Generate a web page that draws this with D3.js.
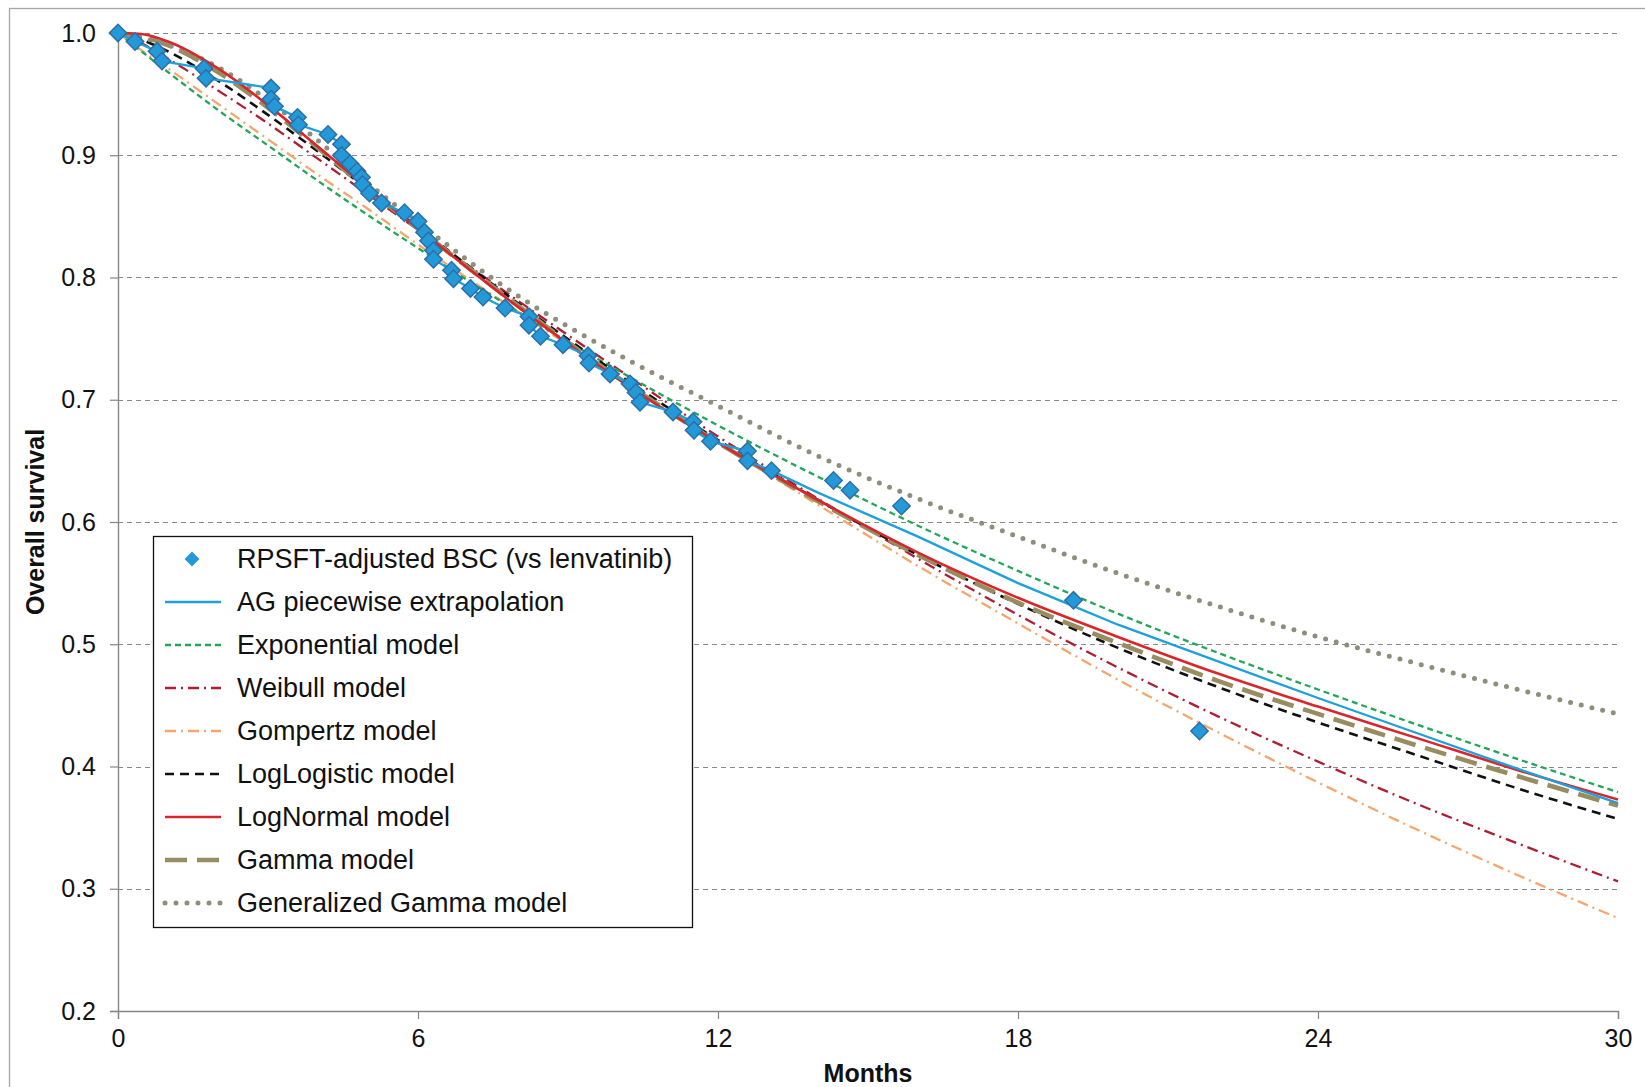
<!DOCTYPE html>
<html>
<head>
<meta charset="utf-8">
<script src="https://cdn.jsdelivr.net/npm/d3@7"></script>
<style>
  html, body { margin: 0; padding: 0; background: #fff; }
  svg { display: block; font-family: "Liberation Sans", Arial, sans-serif; }
</style>
</head>
<body>
<svg id="chart" width="1645" height="1087"></svg>
<script>
// ---- Data ----
const kmMonths = [0, 0.34, 0.78, 0.88, 1.72, 1.76, 3.06, 3.06, 3.13, 3.59, 3.61, 4.20, 4.47, 4.47, 4.64, 4.78, 4.87, 4.89, 5.03, 5.27, 5.73, 6.00, 6.13, 6.21, 6.31, 6.31, 6.67, 6.71, 7.05, 7.30, 7.74, 8.22, 8.22, 8.45, 8.90, 9.40, 9.42, 9.84, 10.24, 10.36, 10.44, 11.10, 11.50, 11.52, 11.85, 12.59, 12.59, 13.07, 14.31, 14.64, 15.67, 19.11, 21.63];
const kmSurv   = [1.000, 0.993, 0.985, 0.977, 0.971, 0.963, 0.955, 0.946, 0.940, 0.931, 0.925, 0.917, 0.909, 0.900, 0.893, 0.887, 0.882, 0.876, 0.869, 0.861, 0.853, 0.846, 0.837, 0.830, 0.822, 0.815, 0.806, 0.799, 0.791, 0.784, 0.775, 0.768, 0.761, 0.752, 0.745, 0.736, 0.730, 0.721, 0.713, 0.706, 0.698, 0.690, 0.682, 0.675, 0.666, 0.658, 0.650, 0.642, 0.634, 0.626, 0.613, 0.536, 0.429];

const agMonths = [0, 0.34, 0.78, 0.88, 1.72, 1.76, 3.06, 3.06, 3.13, 3.59, 3.61, 4.20, 4.47, 4.47, 4.64, 4.78, 4.87, 4.89, 5.03, 5.27, 5.73, 6.00, 6.13, 6.21, 6.31, 6.31, 6.67, 6.71, 7.05, 7.30, 7.74, 8.22, 8.22, 8.45, 8.90, 9.40, 9.42, 9.84, 10.24, 10.36, 10.44, 11.10, 11.50, 11.52, 11.85, 12.59, 12.59, 13.07, 14, 15, 16, 17, 18, 19, 20, 22, 24, 26, 28, 30];
const agSurv   = [1.000, 0.993, 0.985, 0.977, 0.971, 0.963, 0.955, 0.946, 0.940, 0.931, 0.925, 0.917, 0.909, 0.900, 0.893, 0.887, 0.882, 0.876, 0.869, 0.861, 0.853, 0.846, 0.837, 0.830, 0.822, 0.815, 0.806, 0.799, 0.791, 0.784, 0.775, 0.768, 0.761, 0.752, 0.745, 0.736, 0.730, 0.721, 0.713, 0.706, 0.698, 0.690, 0.682, 0.675, 0.666, 0.658, 0.650, 0.642, 0.624, 0.606, 0.588, 0.569, 0.550, 0.533, 0.516, 0.486, 0.456, 0.427, 0.398, 0.370];

const modelMonths = [0, 0.5, 1, 2, 3, 4, 5, 6, 8, 10, 12, 14, 16, 18, 20, 22, 24, 26, 28, 30];
const expSurv      = [1.000, 0.984, 0.968, 0.937, 0.908, 0.879, 0.851, 0.824, 0.772, 0.724, 0.679, 0.637, 0.597, 0.560, 0.525, 0.493, 0.463, 0.434, 0.406, 0.379];
const weibullSurv  = [1.000, 0.991, 0.979, 0.953, 0.926, 0.897, 0.868, 0.839, 0.781, 0.725, 0.670, 0.619, 0.570, 0.524, 0.481, 0.441, 0.404, 0.369, 0.337, 0.306];
const gompertzSurv = [1.000, 0.985, 0.971, 0.942, 0.913, 0.884, 0.856, 0.827, 0.772, 0.718, 0.665, 0.614, 0.564, 0.517, 0.471, 0.428, 0.387, 0.348, 0.311, 0.276];
const loglogSurv   = [1.000, 0.994, 0.985, 0.961, 0.933, 0.903, 0.872, 0.841, 0.779, 0.721, 0.667, 0.618, 0.573, 0.533, 0.497, 0.465, 0.436, 0.409, 0.382, 0.357];
const lognormSurv  = [1.000, 0.999, 0.993, 0.971, 0.941, 0.907, 0.873, 0.840, 0.776, 0.717, 0.665, 0.618, 0.575, 0.538, 0.506, 0.476, 0.449, 0.423, 0.397, 0.373];
const gammaSurv    = [1.000, 0.997, 0.990, 0.968, 0.939, 0.906, 0.872, 0.840, 0.777, 0.718, 0.665, 0.617, 0.573, 0.534, 0.501, 0.470, 0.443, 0.417, 0.392, 0.368];
const genGammaSurv = [1.000, 0.996, 0.990, 0.972, 0.945, 0.912, 0.877, 0.845, 0.785, 0.737, 0.695, 0.654, 0.619, 0.588, 0.558, 0.531, 0.506, 0.484, 0.463, 0.443];

const xTicks = [0, 6, 12, 18, 24, 30];
const yTicks = [0.2, 0.3, 0.4, 0.5, 0.6, 0.7, 0.8, 0.9, 1.0];

const legendLabels = ["RPSFT-adjusted BSC (vs lenvatinib)", "AG piecewise extrapolation", "Exponential model", "Weibull model", "Gompertz model", "LogLogistic model", "LogNormal model", "Gamma model", "Generalized Gamma model"];

// ---- Styles ----
const styles = {
  ag:       { color: "#1ea0dc", width: 2.3, dash: null, cap: "butt" },
  exp:      { color: "#22a65a", width: 2.3, dash: "6,4", cap: "butt" },
  weibull:  { color: "#b01e36", width: 2.3, dash: "11,5,2,5", cap: "butt" },
  gompertz: { color: "#f4a66c", width: 2.3, dash: "11,5,2,5", cap: "butt" },
  loglog:   { color: "#111111", width: 2.6, dash: "9,6", cap: "butt" },
  lognorm:  { color: "#d8262b", width: 2.6, dash: null, cap: "butt" },
  gamma:    { color: "#978d60", width: 4.6, dash: "22,10", cap: "butt" },
  gengamma: { color: "#8e8e7a", width: 5, dash: "0,11", cap: "round" }
};

const W = 1645, H = 1087;
const svg = d3.select("#chart");
const plot = { left: 118, right: 1618, top: 33, bottom: 1011 };

const x = d3.scaleLinear().domain([0, 30]).range([plot.left, plot.right]);
const y = d3.scaleLinear().domain([0.2, 1.0]).range([plot.bottom, plot.top]);

// outer border
svg.append("rect").attr("x", 9.5).attr("y", 8.5).attr("width", W).attr("height", H)
  .attr("fill", "none").attr("stroke", "#a6a6a6").attr("stroke-width", 1.3);

// gridlines
svg.append("g").selectAll("line").data(yTicks.filter(d => d > 0.2)).join("line")
  .attr("x1", plot.left).attr("x2", plot.right)
  .attr("y1", d => Math.round(y(d)) + 0.5).attr("y2", d => Math.round(y(d)) + 0.5)
  .attr("stroke", "#8a8a8a").attr("stroke-width", 1.1).attr("stroke-dasharray", "5,4");

// axes
const xAxis = d3.axisBottom(x).tickValues(xTicks).tickFormat(d3.format("d")).tickSize(8).tickPadding(10);
const gx = svg.append("g").attr("transform", `translate(0,${plot.bottom})`).call(xAxis);
gx.select(".domain").attr("stroke", "#868686").attr("stroke-width", 1.4);
gx.selectAll(".tick line").attr("stroke", "#868686").attr("stroke-width", 1.2);
gx.selectAll(".tick text").attr("font-size", 25).attr("fill", "#111").attr("font-family", "Liberation Sans, Arial, sans-serif");

const yAxis = d3.axisLeft(y).tickValues(yTicks).tickFormat(d3.format(".1f")).tickSize(8).tickPadding(14);
const gy = svg.append("g").attr("transform", `translate(${plot.left},0)`).call(yAxis);
gy.select(".domain").attr("stroke", "#868686").attr("stroke-width", 1.4);
gy.selectAll(".tick line").attr("stroke", "#868686").attr("stroke-width", 1.2);
gy.selectAll(".tick text").attr("font-size", 25).attr("fill", "#111").attr("font-family", "Liberation Sans, Arial, sans-serif");

// axis titles
svg.append("text").attr("x", (plot.left + plot.right) / 2).attr("y", 1082)
  .attr("text-anchor", "middle").attr("font-size", 25).attr("font-weight", "bold").attr("fill", "#111")
  .text("Months");
svg.append("text").attr("transform", `translate(44,${(plot.top + plot.bottom) / 2}) rotate(-90)`)
  .attr("text-anchor", "middle").attr("font-size", 25).attr("font-weight", "bold").attr("fill", "#111")
  .text("Overall survival");

// lines
const lineSmooth = d3.line().x(d => x(d[0])).y(d => y(d[1])).curve(d3.curveMonotoneX);
const linePoly = d3.line().x(d => x(d[0])).y(d => y(d[1]));
const zip = (a, b) => a.map((v, i) => [v, b[i]]);

const g = svg.append("g");
function drawLine(data, st, gen) {
  const p = g.append("path").datum(data).attr("d", gen).attr("fill", "none")
    .attr("stroke", st.color).attr("stroke-width", st.width).attr("stroke-linecap", st.cap)
    .attr("stroke-linejoin", "round");
  if (st.dash) p.attr("stroke-dasharray", st.dash);
}
drawLine(zip(modelMonths, gompertzSurv), styles.gompertz, lineSmooth);
drawLine(zip(modelMonths, weibullSurv), styles.weibull, lineSmooth);
drawLine(zip(modelMonths, expSurv), styles.exp, lineSmooth);
drawLine(zip(modelMonths, loglogSurv), styles.loglog, lineSmooth);
drawLine(zip(modelMonths, gammaSurv), styles.gamma, lineSmooth);
drawLine(zip(modelMonths, genGammaSurv), styles.gengamma, lineSmooth);
drawLine(zip(modelMonths, lognormSurv), styles.lognorm, lineSmooth);
drawLine(zip(agMonths, agSurv), styles.ag, linePoly);

// diamonds
const diamond = d3.symbol().type(d3.symbolSquare).size(150);
svg.append("g").selectAll("path").data(zip(kmMonths, kmSurv)).join("path")
  .attr("d", diamond)
  .attr("transform", d => `translate(${x(d[0])},${y(d[1])}) rotate(45)`)
  .attr("fill", "#2399d8").attr("stroke", "#2d6fa6").attr("stroke-width", 1.5);

// legend
const lg = svg.append("g");
const lgBox = { x: 153.5, y: 536.5, w: 539, h: 391 };
lg.append("rect").attr("x", lgBox.x).attr("y", lgBox.y).attr("width", lgBox.w).attr("height", lgBox.h)
  .attr("fill", "#fff").attr("stroke", "#111").attr("stroke-width", 1.3);
const legendStyles = [null, styles.ag, styles.exp, styles.weibull, styles.gompertz, styles.loglog, styles.lognorm, styles.gamma, styles.gengamma];
const rowY = d3.scaleLinear().domain([0, 8]).range([559, 903]);
legendLabels.forEach((label, i) => {
  const cy = rowY(i);
  if (i === 0) {
    lg.append("path").attr("d", d3.symbol().type(d3.symbolSquare).size(110))
      .attr("transform", `translate(192,${cy}) rotate(45)`).attr("fill", "#2399d8");
  } else {
    const st = legendStyles[i];
    const l = lg.append("line").attr("x1", 165).attr("x2", 221).attr("y1", cy).attr("y2", cy)
      .attr("stroke", st.color).attr("stroke-width", st.width).attr("stroke-linecap", st.cap);
    if (st.dash) l.attr("stroke-dasharray", st.dash);
  }
  lg.append("text").attr("x", 237).attr("y", cy).attr("dy", "0.35em")
    .attr("font-size", 27).attr("fill", "#111").text(label);
});
</script>
</body>
</html>
